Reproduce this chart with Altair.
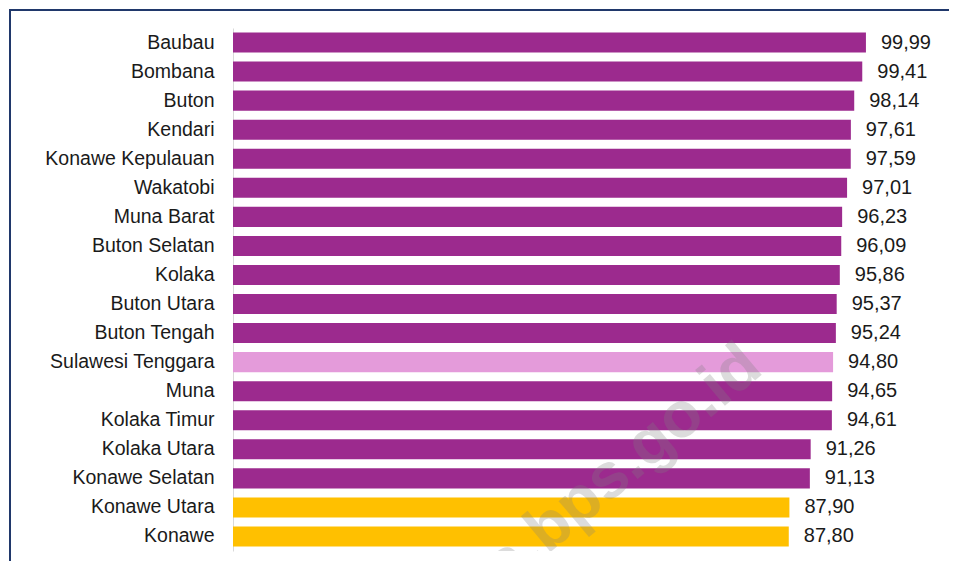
import altair as alt
import pandas as pd

regions = ["Baubau", "Bombana", "Buton", "Kendari", "Konawe Kepulauan", "Wakatobi",
           "Muna Barat", "Buton Selatan", "Kolaka", "Buton Utara", "Buton Tengah",
           "Sulawesi Tenggara", "Muna", "Kolaka Timur", "Kolaka Utara",
           "Konawe Selatan", "Konawe Utara", "Konawe"]
values = [99.99, 99.41, 98.14, 97.61, 97.59, 97.01, 96.23, 96.09, 95.86, 95.37,
          95.24, 94.80, 94.65, 94.61, 91.26, 91.13, 87.90, 87.80]
groups = ["kab"] * 11 + ["prov"] + ["kab"] * 4 + ["low"] * 2

group_domain = ["kab", "prov", "low"]
group_colors = ["#9C2A8E", "#E49BDA", "#FFC000"]

df = pd.DataFrame({"region": regions, "value": values, "group": groups})

FONT = "Liberation Sans"
W, H = 633, 523

y_enc = alt.Y(
    "region:N", sort=regions, title=None,
    scale=alt.Scale(paddingInner=0.31, paddingOuter=0.155),
    axis=alt.Axis(ticks=False, labelPadding=19, labelFontSize=19.5, labelFont=FONT,
                  labelColor="#1a1a1a", domainColor="#d9d9d9", domainWidth=1,
                  labelLimit=400),
)
x_enc = alt.X("value:Q", scale=alt.Scale(domain=[0, 100]), axis=None)

base = alt.Chart(df)

bars = base.mark_bar().encode(
    x=x_enc, y=y_enc,
    color=alt.Color("group:N", scale=alt.Scale(domain=group_domain, range=group_colors),
                    legend=None),
)

labels = base.transform_calculate(
    label="replace(format(datum.value, '.2f'), '.', ',')"
).mark_text(align="left", baseline="middle", dx=15, fontSize=20, font=FONT,
            color="#1a1a1a").encode(x=x_enc, y=y_enc, text="label:N")

one = pd.DataFrame({"k": [0]})
frame_top = alt.Chart(one).mark_rule(color="#20386B", strokeWidth=2).encode(
    x=alt.value(-223), x2=alt.value(716), y=alt.value(-18))
frame_left = alt.Chart(one).mark_rule(color="#20386B", strokeWidth=2).encode(
    x=alt.value(-223), y=alt.value(-19), y2=alt.value(533))

watermark = alt.Chart(one).mark_text(
    text="sultra.bps.go.id", align="right", baseline="alphabetic", angle=320,
    fontSize=64, fontWeight="bold", font=FONT, color="#808080", opacity=0.27,
    clip=True,
).encode(x=alt.value(532), y=alt.value(344))

chart = alt.layer(bars, labels, watermark, frame_top, frame_left).properties(
    width=W, height=H,
    padding={"left": 1, "top": 0, "right": 0, "bottom": 0},
    background="white",
).configure_view(stroke=None)

chart.save("out.html", embed_options={"renderer": "svg", "actions": False})
